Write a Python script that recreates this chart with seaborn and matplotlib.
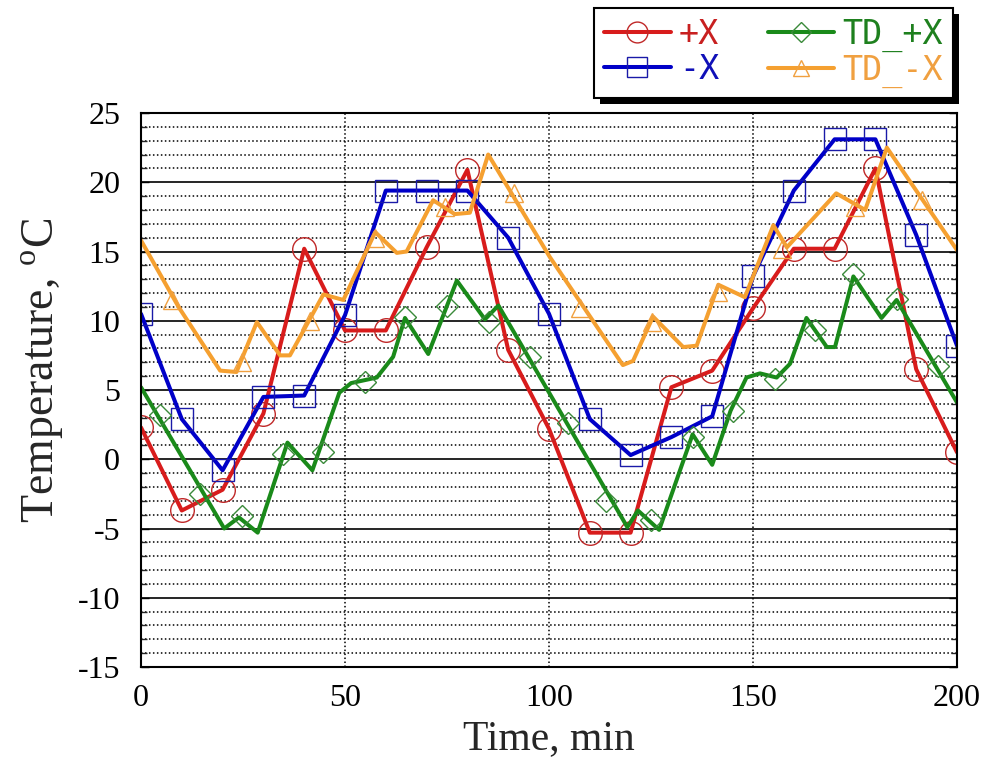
import matplotlib
matplotlib.use("Agg")
import matplotlib.pyplot as plt
import seaborn as sns
import pandas as pd
from matplotlib.lines import Line2D
from matplotlib.patches import Rectangle
from matplotlib.ticker import MultipleLocator

# ---------------- data ----------------
time_10 = [0, 10, 20, 30, 40, 50, 60, 70, 80, 90, 100,
           110, 120, 130, 140, 150, 160, 170, 180, 190, 200]
plus_x = [2.3, -3.7, -2.2, 3.3, 15.2, 9.3, 9.3, 15.3, 20.9, 7.9, 2.2,
          -5.3, -5.3, 5.2, 6.4, 10.9, 15.2, 15.2, 21.0, 6.5, 0.5]
minus_x = [10.5, 2.9, -0.8, 4.5, 4.6, 10.4, 19.4, 19.4, 19.4, 16.0, 10.5,
           2.9, 0.3, 1.6, 3.1, 13.2, 19.4, 23.1, 23.1, 16.2, 8.2]

td_plus_t = [0, 20.4, 24.0, 28.6, 35.9, 42.0, 48.6, 51.5, 57.8, 61.8, 64.7,
             70.4, 77.4, 84.3, 87.6, 119.2, 121.8, 127.0, 135.2, 140.0,
             144.5, 148.4, 151.7, 155.8, 159.1, 163.1, 168.1, 170.1, 174.6,
             181.5, 185.2, 200]
td_plus_y = [5.2, -5.0, -4.2, -5.3, 1.2, -0.8, 4.8, 5.5, 5.9, 7.4, 10.2,
             7.6, 12.9, 10.1, 11.1, -4.9, -3.7, -5.1, 1.8, -0.4,
             3.5, 5.9, 6.2, 5.9, 6.9, 10.2, 8.1, 8.1, 13.2,
             10.2, 11.5, 4.1]
td_plus_mark_t = [4.6, 14.4, 24.8, 34.9, 44.7, 54.9, 64.7, 74.9, 85.2, 95.3,
                  104.7, 114.0, 125.0, 135.4, 145.2, 155.4, 165.2, 174.6,
                  185.2, 195.4]
td_plus_mark_y = [3.2, -2.5, -4.1, 0.4, 0.5, 5.6, 10.3, 11.1, 9.9, 7.4,
                  2.6, -3.0, -4.4, 1.6, 3.5, 5.8, 9.3, 13.4, 11.6, 6.7]

td_minus_t = [0, 9.2, 19.4, 23.4, 28.4, 34.1, 36.5, 44.7, 49.6, 57.4, 62.7,
              65.1, 71.6, 76.9, 80.6, 85.1, 100.2, 118.1, 120.6, 125.5,
              132.9, 136.2, 141.5, 148.0, 155.0, 158.3, 170.4, 177.5, 182.8,
              200]
td_minus_y = [15.8, 11.0, 6.4, 6.3, 9.9, 7.5, 7.5, 11.9, 11.5, 16.4, 14.9,
              15.0, 18.7, 17.7, 17.8, 22.0, 14.6, 6.8, 7.1, 10.3,
              8.1, 8.2, 12.6, 11.7, 16.9, 15.3, 19.2, 18.0, 22.5,
              15.1]
td_minus_mark_t = [7.5, 24.7, 41.4, 57.4, 74.5, 91.3, 107.6, 125.2, 141.5,
                   157.0, 175.0, 191.3]
td_minus_mark_y = [11.5, 7.0, 10.0, 16.0, 18.2, 19.2, 10.9, 9.9, 12.1,
                   15.2, 18.2, 18.7]

labels = ["+X", "-X", "TD_+X", "TD_-X"]
x_ticks = [0, 50, 100, 150, 200]
y_ticks = [-15, -10, -5, 0, 5, 10, 15, 20, 25]

# ---------------- style ----------------
sns.set_style("white")
plt.rcParams["font.family"] = ["Liberation Serif", "DejaVu Serif"]
plt.rcParams["mathtext.fontset"] = "custom"
plt.rcParams["mathtext.rm"] = "Liberation Serif"
plt.rcParams["axes.unicode_minus"] = False

c_red, c_red_m = "#d81c1c", "#c02828"
c_blue, c_blue_m = "#0000c8", "#1a1aa8"
c_green, c_green_m = "#1a8a1a", "#3a8a3a"
c_orange, c_orange_m = "#f5a030", "#f0a040"

fig = plt.figure(figsize=(9.88, 7.64), dpi=100)
ax = fig.add_axes([141 / 988, 1 - 667 / 764, 816 / 988, 554 / 764])

lw = 2.9
sns.lineplot(x=time_10, y=plus_x, ax=ax, color=c_red, lw=lw, marker="o",
             ms=17, mfc="none", mec=c_red_m, mew=1.0, estimator=None, sort=False)
sns.lineplot(x=time_10, y=minus_x, ax=ax, color=c_blue, lw=lw, marker="s",
             ms=16, mfc="none", mec=c_blue_m, mew=1.0, estimator=None, sort=False)

sns.lineplot(x=td_plus_t, y=td_plus_y, ax=ax, color=c_green, lw=lw,
             estimator=None, sort=False)
sns.lineplot(x=td_plus_mark_t, y=td_plus_mark_y, ax=ax, color=c_green_m,
             linestyle="none", marker="D", ms=11, mfc="none", mec=c_green_m,
             mew=1.0, estimator=None, sort=False)
sns.lineplot(x=td_minus_t, y=td_minus_y, ax=ax, color=c_orange, lw=lw,
             estimator=None, sort=False)
sns.lineplot(x=td_minus_mark_t, y=td_minus_mark_y, ax=ax, color=c_orange_m,
             linestyle="none", marker="^", ms=13, mfc="none", mec=c_orange_m,
             mew=1.0, estimator=None, sort=False)

ax.set_xlim(0, 200)
ax.set_ylim(-15, 25)
ax.set_xticks(x_ticks)
ax.set_yticks(y_ticks)
ax.yaxis.set_minor_locator(MultipleLocator(1))

ax.set_axisbelow(True)
ax.grid(which="major", axis="y", color="black", lw=1.2, ls="-")
ax.grid(which="minor", axis="y", color="black", lw=1.1, ls=(0, (1, 1.6)))
ax.grid(which="major", axis="x", color="black", lw=1.1, ls=(0, (1, 1.6)))

for s in ax.spines.values():
    s.set_color("black")
    s.set_linewidth(1.5)

ax.tick_params(axis="both", which="major", direction="in", length=6,
               width=1.0, labelsize=23, colors="black")
ax.tick_params(axis="y", which="both", right=True, left=True)
ax.tick_params(axis="y", which="minor", direction="in", length=4, width=1.0)
ax.tick_params(axis="y", which="major", pad=15)
ax.tick_params(axis="x", which="major", pad=12)

ax.set_xlabel("Time, min", fontsize=30, labelpad=5)
ax.set_ylabel("Temperature, $^{\\rm o}$C", fontsize=33)
ax.yaxis.set_label_coords(-0.092, 0.535)

# ---------------- legend ----------------
handles = [
    Line2D([], [], color=c_red, lw=lw, marker="o", ms=15, mfc="none",
           mec=c_red_m, mew=1.0),
    Line2D([], [], color=c_blue, lw=lw, marker="s", ms=14, mfc="none",
           mec=c_blue_m, mew=1.0),
    Line2D([], [], color=c_green, lw=lw, marker="D", ms=10, mfc="none",
           mec=c_green_m, mew=1.0),
    Line2D([], [], color=c_orange, lw=lw, marker="^", ms=12, mfc="none",
           mec=c_orange_m, mew=1.0),
]
leg = fig.legend(handles, labels, ncol=2, loc="upper left",
                 bbox_to_anchor=(594 / 988, 1 - 8 / 764), borderaxespad=0,
                 prop={"family": "DejaVu Sans Mono", "size": 24},
                 frameon=True, fancybox=False, edgecolor="black",
                 handlelength=2.0, handletextpad=0.25, columnspacing=1.45,
                 borderpad=0.3, labelspacing=0.05, framealpha=1)
leg.get_frame().set_linewidth(1.5)
leg.set_zorder(10)
for txt, col in zip(leg.get_texts(), ["#c82020", "#1010b8", "#1e801e", "#f0a040"]):
    txt.set_color(col)

# thick black drop shadow behind the legend box
fig.canvas.draw()
bb = leg.get_frame().get_window_extent()
W, H = fig.bbox.width, fig.bbox.height
shadow = Rectangle(((bb.x0 + 6) / W, (bb.y0 - 6) / H), bb.width / W, bb.height / H,
                   transform=fig.transFigure, facecolor="black",
                   edgecolor="none", zorder=9)
fig.patches.append(shadow)

fig.savefig("out.png", dpi=100)
